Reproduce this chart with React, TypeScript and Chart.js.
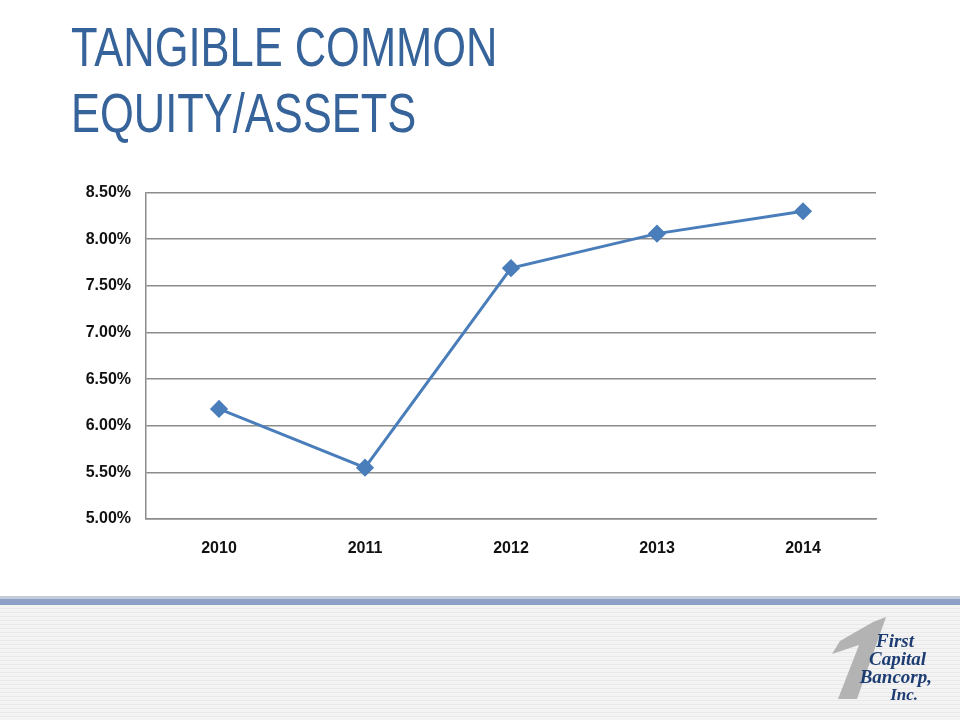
import React, { useEffect, useRef } from "react";
import { Chart, registerables } from "chart.js";

Chart.register(...registerables);

const years = ["2010", "2011", "2012", "2013", "2014"];
const ratio = [6.18, 5.55, 7.69, 8.06, 8.3];
const yMin = 5.0;
const yMax = 8.5;
const yStep = 0.5;

const titleLines = ["TANGIBLE COMMON", "EQUITY/ASSETS"];

export default function App() {
  const canvasRef = useRef<HTMLCanvasElement | null>(null);

  useEffect(() => {
    if (!canvasRef.current) return;
    const chart = new Chart(canvasRef.current, {
      type: "line",
      data: {
        labels: years,
        datasets: [
          {
            data: ratio,
            borderColor: "#4A7EBB",
            backgroundColor: "#4A7EBB",
            borderWidth: 3,
            pointStyle: "rectRot",
            pointRadius: 7,
            pointHoverRadius: 7,
            pointBackgroundColor: "#4A7EBB",
            pointBorderColor: "#4A7EBB",
            tension: 0,
          },
        ],
      },
      options: {
        animation: false,
        responsive: false,
        maintainAspectRatio: false,
        layout: { padding: { left: 0, right: 24, top: 20, bottom: 0 } },
        plugins: {
          legend: { display: false },
          tooltip: { enabled: false },
          title: { display: false },
        },
        scales: {
          x: {
            offset: true,
            grid: { display: false, drawTicks: false },
            border: { display: true, color: "#8c8c8c", width: 1.5 },
            ticks: {
              padding: 20,
              color: "#111",
              font: { family: "Liberation Sans, Arial, sans-serif", size: 16, weight: "bold" },
            },
            afterFit: (s: any) => {
              s.height = 61;
            },
          },
          y: {
            min: yMin,
            max: yMax,
            grid: { color: "#8c8c8c", lineWidth: 1.5, drawTicks: false },
            border: { display: true, color: "#8c8c8c", width: 1.5 },
            ticks: {
              stepSize: yStep,
              padding: 15,
              color: "#111",
              font: { family: "Liberation Sans, Arial, sans-serif", size: 16, weight: "bold" },
              callback: (v: any) => Number(v).toFixed(2) + "%",
            },
            afterFit: (s: any) => {
              s.width = 146;
            },
          },
        },
      },
    });
    return () => chart.destroy();
  }, []);

  return (
    <div
      style={{
        position: "absolute",
        left: 0,
        top: 0,
        width: 960,
        height: 720,
        background: "#ffffff",
        overflow: "hidden",
      }}
    >
      <div
        style={{
          position: "absolute",
          left: 71,
          top: 14,
          fontFamily: "'Liberation Sans', Arial, sans-serif",
          fontSize: 55,
          lineHeight: "66px",
          color: "#35639A",
          whiteSpace: "nowrap",
          transform: "scaleX(0.79)",
          transformOrigin: "0 0",
        }}
      >
        {titleLines.map((l) => (
          <div key={l}>{l}</div>
        ))}
      </div>

      <canvas
        ref={canvasRef}
        width={900}
        height={412}
        style={{ position: "absolute", left: 0, top: 168, width: 900, height: 412 }}
      />

      {/* bottom band */}
      <div style={{ position: "absolute", left: 0, top: 596, width: 960, height: 3, background: "#c3ccd6" }} />
      <div style={{ position: "absolute", left: 0, top: 599, width: 960, height: 6, background: "#8c9fc6" }} />
      <div
        style={{
          position: "absolute",
          left: 0,
          top: 605,
          width: 960,
          height: 115,
          background:
            "repeating-linear-gradient(180deg, #f3f3f3 0px, #f3f3f3 3px, #e9e9e9 3px, #e9e9e9 4px)",
        }}
      />
      <svg
        width={960}
        height={720}
        style={{ position: "absolute", left: 0, top: 0 }}
      >
        <polygon
          points="873,622 886,617 857,699 838,699 859,645 832,654 840,641"
          fill="#b3b3b3"
        />
      </svg>
      <div
        style={{
          position: "absolute",
          left: 850,
          top: 632,
          width: 82,
          fontFamily: "'Liberation Serif', 'DejaVu Serif', serif",
          fontStyle: "italic",
          fontWeight: "bold",
          fontSize: 19,
          lineHeight: "18px",
          color: "#1d3d72",
          textAlign: "right",
        }}
      >
        <div style={{ paddingRight: 18 }}>First</div>
        <div style={{ paddingRight: 6 }}>Capital</div>
        <div style={{ paddingRight: 0 }}>Bancorp,</div>
        <div style={{ paddingRight: 14, fontSize: 17 }}>Inc.</div>
      </div>
    </div>
  );
}
